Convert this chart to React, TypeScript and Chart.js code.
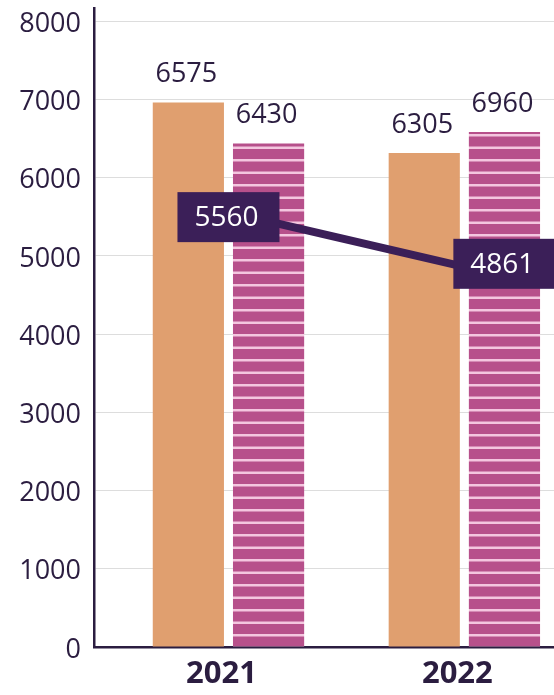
import React, { useEffect, useRef } from "react";
import { Chart, registerables } from "chart.js";

Chart.register(...registerables);

const categories = ["2021", "2022"];
const barHeightsA = [6962, 6315];
const barHeightsB = [6438, 6585];
const barLabelsA = ["6575", "6305"];
const barLabelsB = ["6430", "6960"];
const lineValues = [5560, 4861];
const yTickValues = [0, 1000, 2000, 3000, 4000, 5000, 6000, 7000, 8000];

const DARK = "#2b1d40";
const BOX = "#3b1f58";
const ORANGE = "#e09f6f";
const PINK = "#b7508b";
const STRIPE = "#f4c6df";

function makePattern(): CanvasPattern | string {
  const c = document.createElement("canvas");
  c.width = 8;
  c.height = 25;
  const g = c.getContext("2d");
  if (!g) return PINK;
  g.fillStyle = PINK;
  g.fillRect(0, 0, 8, 25);
  g.fillStyle = STRIPE;
  g.fillRect(0, 9, 8, 2.5);
  g.fillRect(0, 21.5, 8, 2.5);
  return g.createPattern(c, "repeat") || PINK;
}

const labelPlugin = {
  id: "customLabels",
  afterDatasetsDraw(chart: any) {
    const ctx = chart.ctx;
    ctx.save();
    const barSets = [barLabelsA, barLabelsB];
    ctx.font = "27px 'Open Sans'";
    ctx.fillStyle = DARK;
    ctx.textAlign = "center";
    ctx.textBaseline = "middle";
    barSets.forEach((labels, di) => {
      const meta = chart.getDatasetMeta(di);
      meta.data.forEach((el: any, i: number) => {
        ctx.fillText(labels[i], el.x - 2, el.y - 28);
      });
    });
    const offsets = [
      { dx: 0, dy: 5 },
      { dx: 40, dy: -3 },
    ];
    const lineMeta = chart.getDatasetMeta(2);
    lineMeta.data.forEach((el: any, i: number) => {
      const cx = el.x + offsets[i].dx;
      const cy = el.y + offsets[i].dy;
      const w = 102;
      const h = 50;
      ctx.fillStyle = BOX;
      ctx.fillRect(cx - w / 2, cy - h / 2, w, h);
      ctx.fillStyle = "#ffffff";
      ctx.font = "28px 'Open Sans'";
      ctx.fillText(String(lineValues[i]), cx - 2, cy + 1);
    });
    ctx.restore();
  },
};

export default function App() {
  const ref = useRef<HTMLCanvasElement | null>(null);
  useEffect(() => {
    document.body.style.margin = "0";
    if (!ref.current) return;
    const pattern = makePattern();
    const chart = new Chart(ref.current, {
      type: "bar",
      data: {
        datasets: [
          {
            type: "bar",
            data: barHeightsA.map((v, i) => ({ x: i, y: v })),
            backgroundColor: ORANGE,
            categoryPercentage: 0.68,
            barPercentage: 0.8875,
            order: 2,
          },
          {
            type: "bar",
            data: barHeightsB.map((v, i) => ({ x: i, y: v })),
            backgroundColor: pattern as any,
            categoryPercentage: 0.68,
            barPercentage: 0.8875,
            order: 2,
          },
          {
            type: "line",
            data: lineValues.map((v, i) => ({ x: i, y: v })),
            borderColor: BOX,
            borderWidth: 8,
            pointRadius: 0,
            fill: false,
            order: 0,
          } as any,
        ],
      },
      options: {
        responsive: false,
        animation: false,
        devicePixelRatio: 1,
        layout: { padding: { top: 8, left: 0, right: 0, bottom: 0 } },
        plugins: {
          legend: { display: false },
          tooltip: { enabled: false },
        },
        scales: {
          x: {
            type: "linear",
            offset: false,
            min: -0.57,
            max: 1.38,
            afterBuildTicks: (scale: any) => {
              scale.ticks = categories.map((_, i) => ({ value: i }));
            },
            afterFit: (scale: any) => {
              scale.height = 48;
              scale.paddingLeft = 0;
              scale.paddingRight = 0;
            },
            ticks: {
              callback: (v: any) => categories[Number(v)] ?? "",
              font: { family: "'Open Sans'", size: 31, weight: "bold" },
              color: DARK,
              padding: 9,
              labelOffset: -7,
              autoSkip: false,
              maxRotation: 0,
            },
            grid: { display: false, drawTicks: false, offset: false },
            border: { display: true, color: DARK, width: 2.5 },
          },
          y: {
            type: "linear",
            min: 0,
            max: 8170,
            afterBuildTicks: (scale: any) => {
              scale.ticks = yTickValues.map((v) => ({ value: v }));
            },
            afterFit: (scale: any) => {
              scale.width = 94;
              scale.paddingTop = 0;
              scale.paddingBottom = 0;
            },
            ticks: {
              font: { family: "'Open Sans'", size: 27 },
              color: DARK,
              padding: 13,
              labelOffset: 3,
              callback: (v: any) => String(v),
            },
            grid: { color: "#dddddd", lineWidth: 1, drawTicks: false },
            border: { display: true, color: DARK, width: 2.5 },
          },
        },
      } as any,
      plugins: [labelPlugin],
    });
    return () => chart.destroy();
  }, []);
  return (
    <div style={{ width: 554, height: 695, overflow: "hidden" }}>
      <canvas ref={ref} width={554} height={695} style={{ display: "block" }} />
    </div>
  );
}
